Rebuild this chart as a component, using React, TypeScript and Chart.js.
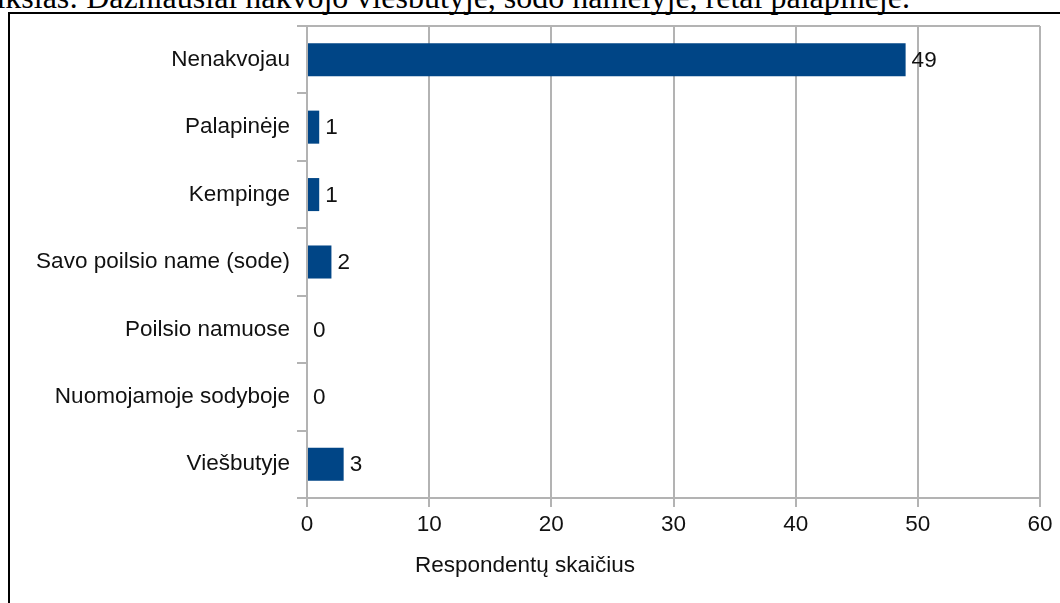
import React, { useEffect, useRef } from "react";
import { Chart, registerables } from "chart.js";

Chart.register(...registerables);

const categories = [
  "Nenakvojau",
  "Palapinėje",
  "Kempinge",
  "Savo poilsio name (sode)",
  "Poilsio namuose",
  "Nuomojamoje sodyboje",
  "Viešbutyje",
];
const respondents = [49, 1, 1, 2, 0, 0, 3];
const xTickValues = [0, 10, 20, 30, 40, 50, 60];
const axisTitle = "Respondentų skaičius";
const captionText =
  "paveikslas: Dažniausiai nakvojo viešbutyje, sodo namelyje, retai palapinėje.";

const FONT = '"Liberation Sans", Arial, sans-serif';
const FS = 22.5;
const TEXT = "#111";
const GRID = "#b3b3b3";
const BAR = "#004586";

const valueLabels = {
  id: "valueLabels",
  afterDatasetsDraw(chart: any) {
    const ctx = chart.ctx;
    const meta = chart.getDatasetMeta(0);
    ctx.save();
    ctx.font = `${FS}px ${FONT}`;
    ctx.fillStyle = TEXT;
    ctx.textAlign = "left";
    ctx.textBaseline = "middle";
    meta.data.forEach((el: any, i: number) => {
      ctx.fillText(String(respondents[i]), el.x + 6, el.y + 1);
    });
    ctx.restore();
  },
};

export default function App() {
  const ref = useRef<HTMLCanvasElement>(null);
  useEffect(() => {
    if (!ref.current) return;
    const n = categories.length;
    const chart = new Chart(ref.current, {
      type: "bar",
      data: {
        labels: categories,
        datasets: [
          {
            data: respondents,
            backgroundColor: BAR,
            borderWidth: 0,
            barPercentage: 0.49,
            categoryPercentage: 1,
          },
        ],
      },
      options: {
        indexAxis: "y",
        responsive: false,
        animation: false,
        events: [],
        layout: { padding: { top: 12, right: 32, left: 0, bottom: 0 } },
        plugins: {
          legend: { display: false },
          tooltip: { enabled: false },
          title: {
            display: true,
            text: axisTitle,
            position: "bottom",
            color: TEXT,
            font: { family: FONT, size: FS, weight: "normal" },
            padding: { top: 10, bottom: 24 },
          },
        },
        scales: {
          x: {
            type: "linear",
            min: 0,
            max: 60,
            afterBuildTicks: (scale: any) => {
              scale.ticks = xTickValues.map((v) => ({ value: v }));
            },
            afterFit: (scale: any) => {
              scale.height = 44;
            },
            ticks: {
              color: TEXT,
              font: { family: FONT, size: FS },
              padding: 4,
            },
            grid: {
              color: GRID,
              lineWidth: 2,
              tickLength: 9,
              tickColor: GRID,
            },
            border: { color: GRID, width: 2 },
          },
          y: {
            type: "category",
            offset: true,
            afterFit: (scale: any) => {
              scale.width = 297;
              scale.paddingTop = 0;
              scale.paddingBottom = 0;
            },
            ticks: {
              color: TEXT,
              font: { family: FONT, size: FS },
              padding: 7,
            },
            grid: {
              offset: true,
              lineWidth: 2,
              tickLength: 10,
              tickColor: GRID,
              color: (c: any) =>
                c.index === 0 || c.index === n ? GRID : "rgba(0,0,0,0)",
            },
            border: { color: GRID, width: 2 },
          },
        },
      },
      plugins: [valueLabels],
    } as any);
    return () => chart.destroy();
  }, []);

  return (
    <div
      style={{
        position: "fixed",
        left: 0,
        top: 0,
        width: 1060,
        height: 603,
        overflow: "hidden",
        background: "#fff",
      }}
    >
      <div
        style={{
          position: "absolute",
          left: -64,
          top: -19,
          fontFamily: '"Liberation Serif", "Times New Roman", serif',
          fontSize: 32,
          lineHeight: "32px",
          whiteSpace: "nowrap",
          color: "#000",
        }}
      >
        {captionText}
      </div>
      <div
        style={{
          position: "absolute",
          left: 8,
          top: 12,
          width: 1100,
          height: 700,
          border: "2px solid #000",
          boxSizing: "border-box",
        }}
      />
      <canvas
        ref={ref}
        width={1062}
        height={589}
        style={{ position: "absolute", left: 10, top: 14, width: 1062, height: 589 }}
      />
    </div>
  );
}
